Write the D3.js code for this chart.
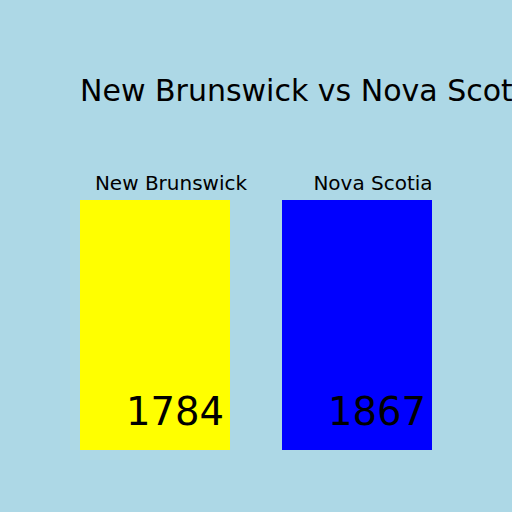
<!DOCTYPE html>
<html>
<head>
<meta charset="utf-8">
<script src="https://cdn.jsdelivr.net/npm/d3@7"></script>
<style>
    body { margin: 0; background: lightblue; }
    svg { display: block; font-family: "DejaVu Sans", sans-serif; }
</style>
</head>
<body>
<svg id="chart"></svg>
<script>
// chart data
const provinces = ["New Brunswick", "Nova Scotia"];
const years = [1784, 1867];
const barColors = ["yellow", "blue"];
const chartTitle = "New Brunswick vs Nova Scotia";

let w = 512;
let h = 512;

let svg = d3.select("#chart")
    .attr("width", w)
    .attr("height", h);

// background
svg.append("rect")
    .attr("width", w)
    .attr("height", h)
    .attr("fill", "lightblue");

// x positions for each province
let xScale = d3.scaleBand()
    .domain(provinces)
    .range([80, 432])
    .paddingInner(0.2574)
    .paddingOuter(0);

// bars are all the same height, so just a unit scale
let yScale = d3.scaleLinear()
    .domain([0, 1])
    .range([450, 200]);

let rows = provinces.map((p, i) => ({ name: p, year: years[i], color: barColors[i] }));

// title (runs off the right edge, same as the original)
svg.append("text")
    .attr("x", 80)
    .attr("y", 101)
    .style("font-size", "30px")
    .attr("fill", "black")
    .text(chartTitle);

let bar = svg.selectAll(".bar")
    .data(rows)
    .enter()
    .append("g")
    .attr("class", "bar");

bar.append("rect")
    .attr("x", (d) => xScale(d.name))
    .attr("y", yScale(1))
    .attr("width", xScale.bandwidth())
    .attr("height", yScale(0) - yScale(1))
    .attr("fill", (d) => d.color);

// province names above bars
bar.append("text")
    .attr("x", (d) => xScale(d.name) + xScale.bandwidth() / 2 + 16)
    .attr("y", yScale(1) - 10)
    .attr("text-anchor", "middle")
    .style("font-size", "20px")
    .text((d) => d.name);

// year labels at bottom right of the bars
bar.append("text")
    .attr("x", (d) => xScale(d.name) + xScale.bandwidth() - 6)
    .attr("y", yScale(0) - 25)
    .attr("text-anchor", "end")
    .style("font-size", "38.5px")
    .text((d) => d.year);
</script>
</body>
</html>
